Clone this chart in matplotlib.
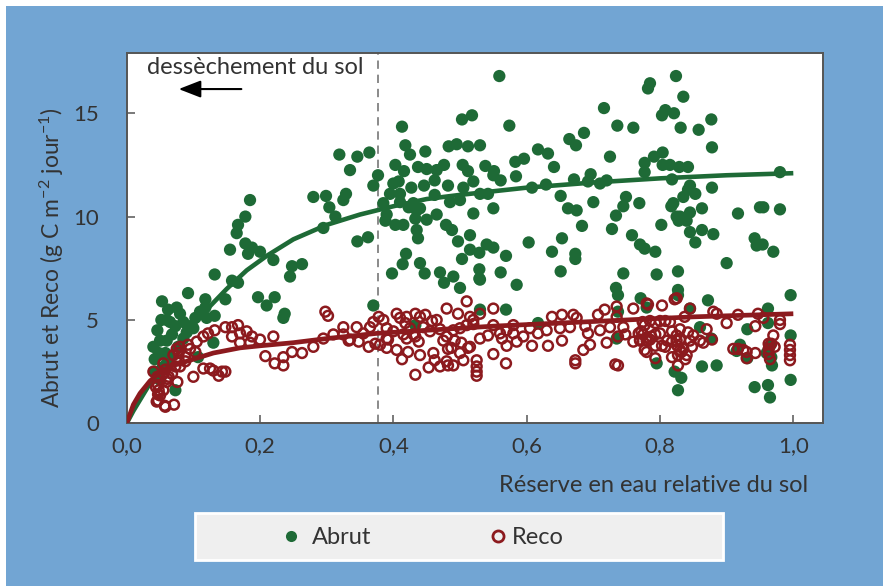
import matplotlib
matplotlib.use('Agg')
import matplotlib.pyplot as plt
from matplotlib.patches import Rectangle
from matplotlib.lines import Line2D
import numpy as np

plt.rcParams['font.family'] = ['Lato', 'DejaVu Sans']
plt.rcParams['mathtext.fontset'] = 'custom'
plt.rcParams['mathtext.rm'] = 'Lato'
plt.rcParams['mathtext.default'] = 'regular'

# Abrut points (relative soil water, g C m-2 day-1)
abrut_pts = [
    (0.185, 10.8), (0.178, 10.0), (0.167, 9.6), (0.165, 9.2), (0.178, 8.7), (0.155, 8.4),
    (0.188, 8.5), (0.200, 8.3), (0.182, 8.2), (0.220, 7.9), (0.248, 7.6), (0.263, 7.7),
    (0.245, 7.1), (0.132, 7.2), (0.158, 6.9), (0.167, 6.8), (0.092, 6.3), (0.118, 6.0),
    (0.148, 6.0), (0.053, 5.9), (0.075, 5.6), (0.118, 5.6), (0.197, 6.1), (0.222, 6.1),
    (0.210, 5.7), (0.235, 5.1), (0.237, 5.3), (0.062, 5.5), (0.060, 5.0), (0.103, 5.1),
    (0.120, 5.1), (0.132, 5.2), (0.073, 4.7), (0.046, 4.5), (0.090, 4.4), (0.050, 4.0),
    (0.060, 4.0), (0.040, 3.7), (0.077, 3.7), (0.058, 3.4), (0.042, 3.1), (0.054, 2.7),
    (0.130, 3.9), (0.107, 3.2), (0.073, 1.6), (0.050, 2.1), (0.042, 2.5), (0.060, 2.9),
    (0.068, 4.3), (0.052, 5.0), (0.080, 5.3), (0.085, 4.9), (0.065, 4.9), (0.095, 4.7),
    (0.048, 3.4), (0.065, 3.2), (0.085, 4.1), (0.100, 4.6), (0.110, 5.4),
    (0.319, 13.0), (0.346, 12.9), (0.364, 13.1), (0.335, 12.25), (0.377, 12.0), (0.370, 11.5),
    (0.280, 10.95), (0.299, 11.0), (0.329, 11.1), (0.325, 10.8), (0.304, 10.45), (0.313, 10.0),
    (0.295, 9.45), (0.346, 8.8), (0.362, 9.0), (0.370, 5.7), (0.413, 14.35), (0.503, 14.7),
    (0.518, 14.9), (0.418, 13.45), (0.425, 13.0), (0.448, 13.15), (0.483, 13.4), (0.495, 13.5),
    (0.512, 13.4), (0.403, 12.5), (0.416, 12.2), (0.437, 12.4), (0.450, 12.3), (0.465, 12.25),
    (0.476, 12.5), (0.504, 12.5), (0.512, 12.2), (0.400, 11.6), (0.408, 11.7), (0.395, 11.1),
    (0.410, 11.1), (0.427, 11.4), (0.446, 11.5), (0.462, 11.75), (0.482, 11.5), (0.505, 11.4),
    (0.520, 11.7), (0.462, 11.05), (0.485, 10.7), (0.500, 10.8), (0.385, 10.65), (0.390, 10.1),
    (0.410, 10.7), (0.430, 10.65), (0.423, 10.45), (0.435, 10.3), (0.440, 10.4), (0.433, 9.9),
    (0.450, 9.85), (0.465, 10.1), (0.388, 9.8), (0.403, 9.6), (0.415, 9.6), (0.435, 9.35),
    (0.437, 8.95), (0.479, 9.6), (0.488, 9.35), (0.497, 8.8), (0.515, 9.1), (0.520, 10.15),
    (0.515, 8.4), (0.503, 7.95), (0.419, 8.2), (0.414, 7.7), (0.398, 7.25), (0.440, 7.75),
    (0.447, 7.25), (0.470, 7.3), (0.490, 7.1), (0.476, 6.8), (0.500, 6.55), (0.530, 6.95),
    (0.559, 16.8), (0.574, 14.4), (0.716, 15.25), (0.782, 16.2), (0.785, 16.45), (0.736, 14.4),
    (0.760, 14.3), (0.530, 13.45), (0.664, 13.75), (0.674, 13.45), (0.686, 14.05), (0.617, 13.25),
    (0.632, 13.05), (0.725, 12.9), (0.538, 12.45), (0.551, 12.2), (0.550, 12.0), (0.561, 11.75),
    (0.583, 12.65), (0.596, 12.8), (0.584, 11.95), (0.641, 12.4), (0.530, 11.1), (0.542, 11.1),
    (0.608, 11.4), (0.629, 11.55), (0.671, 11.8), (0.696, 12.05), (0.692, 11.7), (0.710, 11.6),
    (0.720, 11.75), (0.777, 12.6), (0.777, 12.15), (0.550, 10.4), (0.651, 11.0), (0.662, 10.4),
    (0.675, 10.3), (0.700, 10.7), (0.749, 10.95), (0.745, 10.5), (0.769, 10.65), (0.734, 10.05),
    (0.683, 9.55), (0.728, 9.4), (0.758, 9.1), (0.770, 8.65), (0.777, 8.45), (0.603, 8.75),
    (0.653, 8.95), (0.540, 8.65), (0.550, 8.5), (0.529, 8.25), (0.569, 8.1), (0.638, 8.3),
    (0.673, 8.2), (0.673, 7.95), (0.529, 7.45), (0.529, 7.0), (0.561, 7.3), (0.651, 7.35),
    (0.745, 7.25), (0.585, 6.7), (0.734, 6.55), (0.737, 6.2), (0.771, 6.05),
    (0.824, 16.8), (0.835, 15.8), (0.808, 15.15), (0.803, 14.9), (0.821, 15.0), (0.877, 14.7),
    (0.831, 14.3), (0.858, 14.2), (0.878, 13.35), (0.804, 13.1), (0.791, 12.9), (0.804, 12.5),
    (0.815, 12.5), (0.829, 12.4), (0.842, 12.4), (0.980, 12.15), (0.818, 11.8), (0.845, 11.5),
    (0.842, 11.3), (0.853, 11.1), (0.835, 10.95), (0.878, 11.4), (0.820, 10.65), (0.817, 10.5),
    (0.863, 10.4), (0.845, 10.2), (0.917, 10.15), (0.950, 10.45), (0.955, 10.45), (0.980, 10.35),
    (0.825, 10.0), (0.830, 10.0), (0.840, 9.8), (0.828, 9.8), (0.802, 9.6), (0.845, 9.25),
    (0.863, 9.35), (0.880, 9.15), (0.853, 8.75), (0.942, 8.95), (0.945, 8.6), (0.954, 8.65),
    (0.970, 8.3), (0.793, 8.3), (0.900, 7.75), (0.795, 7.2), (0.827, 7.35), (0.827, 6.45),
    (0.996, 6.2), (0.872, 5.95), (0.827, 6.2), (0.962, 5.55), (0.845, 5.55), (0.996, 4.25),
    (0.931, 4.55), (0.962, 4.85), (0.860, 4.65), (0.920, 3.8), (0.915, 3.5), (0.931, 3.15),
    (0.968, 2.8), (0.960, 3.4), (0.795, 2.9), (0.863, 2.75), (0.885, 2.8), (0.822, 2.5),
    (0.832, 2.2), (0.827, 1.6), (0.942, 1.75), (0.962, 1.85), (0.965, 1.25), (0.996, 2.1),
    (0.877, 4.1), (0.965, 3.75), (0.967, 3.2), (0.530, 5.5), (0.569, 5.5), (0.617, 4.85),
    (0.735, 4.1), (0.737, 5.4), (0.780, 5.6), (0.433, 4.75),
]

# Reco points
reco_pts = [
    (0.167, 4.75), (0.158, 4.65), (0.148, 4.65), (0.132, 4.5), (0.122, 4.35), (0.115, 4.2),
    (0.105, 3.95), (0.092, 3.8), (0.080, 3.7), (0.075, 3.6), (0.158, 4.2), (0.170, 4.35),
    (0.180, 4.45), (0.188, 4.2), (0.170, 3.9), (0.185, 3.9), (0.200, 4.05), (0.220, 4.2),
    (0.208, 3.25), (0.222, 2.9), (0.235, 2.8), (0.235, 3.2), (0.248, 3.45), (0.263, 3.4),
    (0.115, 2.65), (0.125, 2.65), (0.130, 2.55), (0.143, 2.5), (0.148, 2.5), (0.138, 2.3),
    (0.100, 2.25), (0.088, 3.2), (0.088, 3.0), (0.078, 3.05), (0.073, 2.75), (0.080, 2.75),
    (0.068, 2.4), (0.063, 2.25), (0.058, 2.6), (0.055, 2.4), (0.046, 2.25), (0.040, 2.5),
    (0.047, 1.85), (0.055, 1.6), (0.047, 1.1), (0.058, 0.8), (0.071, 0.9), (0.047, 1.4),
    (0.060, 2.0), (0.076, 2.0), (0.055, 2.9), (0.070, 3.3), (0.078, 3.4), (0.103, 3.45),
    (0.095, 3.6), (0.061, 2.15), (0.044, 1.75), (0.045, 1.05), (0.057, 0.85), (0.048, 1.6),
    (0.050, 1.35), (0.280, 3.7), (0.298, 5.4), (0.302, 5.2), (0.295, 4.1), (0.310, 4.3),
    (0.325, 4.65), (0.325, 4.3), (0.333, 4.0), (0.345, 4.65), (0.348, 3.95), (0.363, 3.7),
    (0.365, 4.65), (0.370, 4.9), (0.378, 5.15), (0.380, 3.8), (0.390, 3.65), (0.405, 3.55),
    (0.413, 3.1), (0.433, 2.35), (0.453, 2.7), (0.470, 2.75), (0.460, 3.4), (0.480, 3.0),
    (0.385, 5.0), (0.390, 4.6), (0.405, 5.3), (0.410, 5.1), (0.418, 4.85), (0.433, 5.3),
    (0.440, 5.15), (0.445, 4.65), (0.430, 4.3), (0.438, 3.95), (0.465, 5.0), (0.480, 5.55),
    (0.480, 4.2), (0.482, 3.6), (0.415, 4.3), (0.390, 4.1), (0.420, 4.1), (0.335, 4.05),
    (0.373, 3.85), (0.420, 5.15), (0.448, 5.25), (0.458, 4.95), (0.497, 5.3), (0.510, 5.9),
    (0.515, 5.15), (0.392, 4.05), (0.422, 3.45), (0.433, 4.2), (0.440, 3.3), (0.462, 3.05),
    (0.482, 2.8), (0.490, 2.8), (0.475, 4.0), (0.487, 3.65), (0.492, 4.0), (0.502, 3.9),
    (0.505, 3.05), (0.512, 3.65), (0.500, 3.4), (0.525, 3.05), (0.525, 2.75), (0.525, 2.5),
    (0.525, 2.3), (0.500, 4.6), (0.510, 4.75), (0.455, 4.45), (0.470, 4.55), (0.490, 4.5),
    (0.400, 4.45), (0.425, 4.6), (0.355, 4.35),
    (0.530, 5.3), (0.550, 5.55), (0.520, 5.0), (0.520, 4.8), (0.515, 3.7), (0.530, 4.1),
    (0.542, 4.25), (0.550, 4.75), (0.560, 4.35), (0.563, 4.1), (0.570, 4.5), (0.570, 3.75),
    (0.550, 3.35), (0.569, 2.9), (0.580, 4.75), (0.580, 4.35), (0.585, 3.95), (0.595, 4.2),
    (0.608, 3.75), (0.605, 4.6), (0.617, 4.35), (0.630, 4.5), (0.632, 3.75), (0.638, 5.15),
    (0.650, 4.6), (0.653, 5.25), (0.653, 4.0), (0.665, 4.65), (0.670, 5.25), (0.675, 5.1),
    (0.673, 3.05), (0.673, 2.9), (0.685, 3.55), (0.688, 4.7), (0.695, 3.8), (0.692, 4.35),
    (0.707, 5.25), (0.710, 4.5), (0.717, 5.5), (0.720, 3.9), (0.725, 4.65), (0.735, 5.65),
    (0.735, 5.15), (0.745, 4.65), (0.733, 2.85), (0.737, 2.8), (0.737, 4.2), (0.748, 4.3),
    (0.760, 5.55), (0.760, 3.95), (0.770, 4.05), (0.772, 4.45), (0.777, 3.55), (0.780, 5.8),
    (0.803, 5.7), (0.822, 6.0), (0.845, 5.55), (0.837, 5.15), (0.880, 5.4), (0.885, 5.3),
    (0.917, 5.25), (0.947, 5.3), (0.955, 5.1), (0.980, 5.0), (0.980, 4.8), (0.900, 4.85),
    (0.943, 4.7), (0.970, 4.25), (0.774, 4.9), (0.777, 4.75), (0.785, 4.95), (0.793, 4.85),
    (0.800, 4.95), (0.808, 4.95), (0.815, 4.9), (0.768, 4.35), (0.775, 4.3), (0.780, 4.15),
    (0.787, 4.2), (0.793, 4.3), (0.800, 4.35), (0.770, 4.0), (0.780, 4.0), (0.785, 4.05),
    (0.793, 3.75), (0.803, 3.75), (0.811, 4.0), (0.818, 3.95), (0.825, 4.0), (0.830, 4.05),
    (0.835, 3.6), (0.845, 4.0), (0.848, 3.7), (0.842, 4.4), (0.830, 4.55), (0.818, 4.45),
    (0.825, 4.25), (0.780, 3.45), (0.793, 3.15), (0.808, 3.7), (0.818, 3.2), (0.827, 2.8),
    (0.827, 3.3), (0.832, 3.45), (0.840, 3.3), (0.838, 3.1), (0.830, 3.55), (0.826, 3.75),
    (0.910, 3.6), (0.917, 3.6), (0.925, 3.55), (0.930, 3.45), (0.930, 3.15), (0.943, 3.4),
    (0.963, 3.85), (0.963, 3.6), (0.963, 3.35), (0.965, 3.1), (0.967, 3.85), (0.972, 3.7),
    (0.995, 3.8), (0.995, 3.55), (0.995, 3.3), (0.995, 3.05), (0.825, 6.05), (0.782, 5.75),
    (0.850, 4.25), (0.860, 4.0), (0.870, 4.55), (0.865, 3.9), (0.878, 4.05),
]

# Fitted curves
abrut_fit_x = [0.0, 0.01, 0.025, 0.04, 0.06, 0.09, 0.12, 0.15, 0.18, 0.21, 0.25, 0.30, 0.35,
               0.40, 0.45, 0.50, 0.60, 0.70, 0.80, 0.90, 1.0]
abrut_fit_y = [0.0, 0.6, 1.4, 2.2, 3.1, 4.4, 5.5, 6.5, 7.4, 8.1, 8.9, 9.6, 10.1,
               10.5, 10.85, 11.05, 11.4, 11.65, 11.85, 12.0, 12.1]
reco_fit_x = [0.0, 0.01, 0.02, 0.035, 0.05, 0.07, 0.10, 0.13, 0.17, 0.20, 0.25, 0.30, 0.375,
              0.45, 0.55, 0.65, 0.75, 0.85, 1.0]
reco_fit_y = [0.0, 0.9, 1.45, 2.05, 2.45, 2.8, 3.1, 3.4, 3.65, 3.75, 3.9, 4.1, 4.35,
              4.5, 4.7, 4.85, 5.0, 5.15, 5.3]

x_ticks = [0.0, 0.2, 0.4, 0.6, 0.8, 1.0]
x_tick_labels = ['0,0', '0,2', '0,4', '0,6', '0,8', '1,0']
y_ticks = [0, 5, 10, 15]
threshold = 0.377

green = '#1e6a36'
red = '#8c1a1e'
text_col = '#333333'

abrut = np.array(abrut_pts)
reco = np.array(reco_pts)

fig = plt.figure(figsize=(8.83, 5.86), dpi=100)
fig.patch.set_facecolor('white')

# Blue frame behind everything
fig.patches.append(Rectangle((6 / 883, 0), 1 - 6 / 883, 580 / 586, transform=fig.transFigure,
                             facecolor='#72a5d3', edgecolor='none', zorder=-10))
# Light grey legend panel
fig.patches.append(Rectangle((195 / 883, 26 / 586), 528 / 883, 47 / 586, transform=fig.transFigure,
                             facecolor='#efefef', edgecolor='white', linewidth=2, zorder=-5))

ax = fig.add_axes([126.7 / 883, 162.7 / 586, 696.6 / 883, 370 / 586])
ax.set_facecolor('white')

ax.scatter(abrut[:, 0], abrut[:, 1], s=78, color=green, edgecolors='none', zorder=2)
ax.plot(abrut_fit_x, abrut_fit_y, color=green, lw=3.3, solid_capstyle='butt', zorder=3)
ax.scatter(reco[:, 0], reco[:, 1], s=50, facecolors='none', edgecolors=red, linewidths=1.8, zorder=4)
ax.plot(reco_fit_x, reco_fit_y, color=red, lw=3.4, solid_capstyle='butt', zorder=5)

ax.axvline(threshold, color='#777777', lw=1.2, linestyle=(0, (5, 3.5)), zorder=1)

ax.set_xlim(0, 1.045)
ax.set_ylim(0, 17.9)
ax.set_xticks(x_ticks)
ax.set_xticklabels(x_tick_labels)
ax.set_yticks(y_ticks)

for s in ax.spines.values():
    s.set_color('#555555')
    s.set_linewidth(1.4)
ax.tick_params(direction='in', length=6, width=1.1, color='#555555', labelsize=16,
               labelcolor=text_col)
ax.tick_params(axis='x', pad=9)
ax.tick_params(axis='y', pad=20)

ax.set_xlabel('Réserve en eau relative du sol', fontsize=17, color=text_col, ha='right', va='center')
ax.xaxis.set_label_coords(0.978, -0.167)
ax.set_ylabel('Abrut et Reco (g C m$^{-2}$ jour$^{-1}$)', fontsize=16.5, color=text_col, va='center')
ax.yaxis.set_label_coords(-0.107, 0.447)

# Drying annotation
ax.text(0.030, 17.2, 'dessèchement du sol', fontsize=17, color=text_col, ha='left', va='center')
ax.annotate('', xy=(0.078, 16.17), xytext=(0.172, 16.17),
            arrowprops=dict(arrowstyle='-|>,head_length=0.9,head_width=0.35', mutation_scale=15,
                            color='black', lw=1.5, shrinkA=0, shrinkB=0))

# Legend entries
h_abrut = Line2D([], [], linestyle='none', marker='o', markersize=8, color=green, markeredgecolor='none')
h_reco = Line2D([], [], linestyle='none', marker='o', markersize=8, markerfacecolor='none',
                markeredgecolor=red, markeredgewidth=2)
leg1 = fig.legend([h_abrut], ['Abrut'], loc='center left', bbox_to_anchor=(279 / 883, 48 / 586),
                  frameon=False, fontsize=17, handlelength=1.0, handletextpad=0.4,
                  borderpad=0, borderaxespad=0, labelcolor=text_col)
leg2 = fig.legend([h_reco], ['Reco'], loc='center left', bbox_to_anchor=(486 / 883, 48 / 586),
                  frameon=False, fontsize=17, handlelength=1.0, handletextpad=0.1,
                  borderpad=0, borderaxespad=0, labelcolor=text_col)

fig.savefig('out.png', dpi=100)
